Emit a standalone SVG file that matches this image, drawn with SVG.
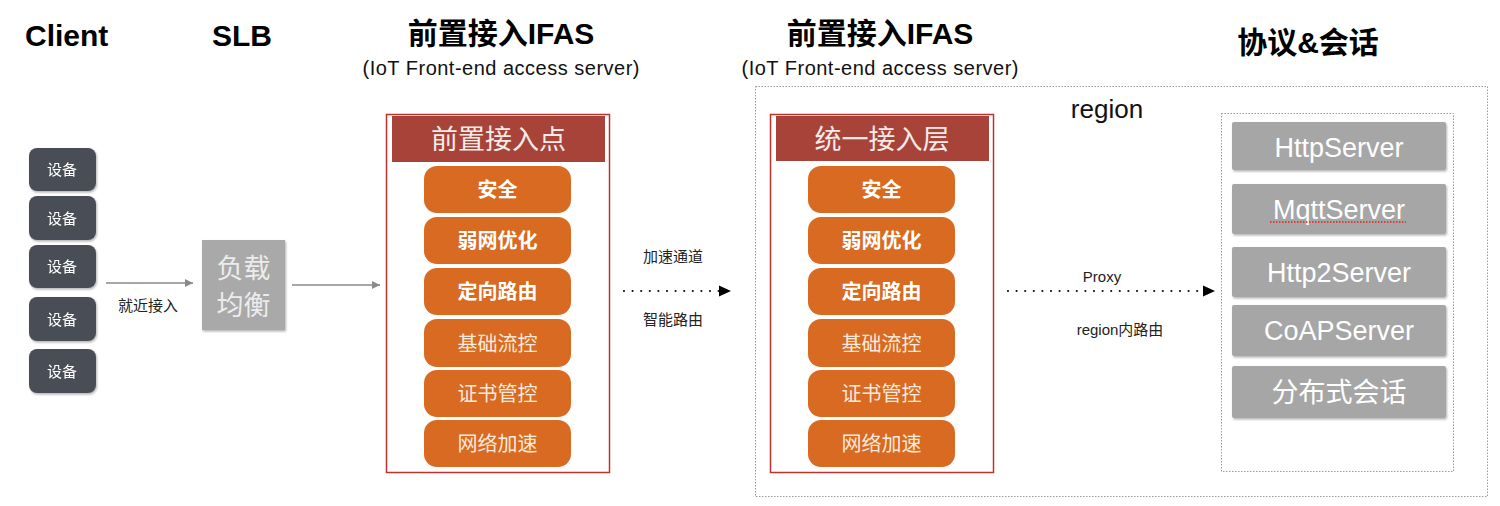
<svg xmlns="http://www.w3.org/2000/svg" width="1500" height="506" viewBox="0 0 1500 506">
<defs>
<style>
text{font-family:"Liberation Sans","Noto Sans CJK SC",sans-serif;}
.title{font-size:30px;font-weight:bold;fill:#000;}
.sub{font-size:20px;fill:#111;}
.dev{fill:#4a4e55;}
.devt{font-size:15px;fill:#fff;text-anchor:middle;}
.red{fill:#fff;stroke:#c1312b;stroke-width:1.5;}
.hdr{fill:#a8433a;}
.hdrt{font-size:27px;fill:#f5ece9;text-anchor:middle;}
.org{fill:#d96a22;}
.ob{font-size:20px;font-weight:bold;fill:#fff;text-anchor:middle;}
.on{font-size:20px;fill:#fbe9dc;text-anchor:middle;}
.srv{fill:#a6a6a6;}
.srvt{font-size:27px;fill:#fff;text-anchor:middle;}
.lbl{font-size:15px;fill:#222;text-anchor:middle;}
.dotbox{fill:none;stroke:#9a9a9a;stroke-width:1;stroke-dasharray:1.5 1.5;}
.solid{stroke:#8a8a8a;stroke-width:1.5;fill:none;}
.dotted{stroke:#111;stroke-width:2.2;stroke-linecap:round;stroke-dasharray:0 8.6;fill:none;}
</style>
<marker id="ag" viewBox="0 0 10 10" refX="10" refY="5" markerWidth="8" markerHeight="8" markerUnits="userSpaceOnUse" orient="auto"><path d="M0,0 L10,5 L0,10 Z" fill="#8a8a8a"/></marker>
<filter id="sh" x="-10%" y="-10%" width="130%" height="130%"><feDropShadow dx="1" dy="1.5" stdDeviation="1.2" flood-color="#000" flood-opacity="0.3"/></filter>
</defs>
<rect width="1500" height="506" fill="#fff"/>

<g id="titles">
<text class="title" x="25" y="46">Client</text>
<text class="title" x="212" y="46">SLB</text>
<text class="title" x="501" y="44" text-anchor="middle">前置接入IFAS</text>
<text class="sub" x="501" y="75" text-anchor="middle" textLength="277">(IoT Front-end access server)</text>
<text class="title" x="880" y="44" text-anchor="middle">前置接入IFAS</text>
<text class="sub" x="880" y="75" text-anchor="middle" textLength="277">(IoT Front-end access server)</text>
<text class="title" x="1308" y="53" text-anchor="middle">协议&amp;会话</text>
</g>

<g id="region">
<rect class="dotbox" x="755.5" y="86.5" width="732" height="410"/>
<text x="1107" y="118" font-size="26" text-anchor="middle" fill="#111">region</text>
</g>

<g id="devices" filter="url(#sh)">
<g id="dev1"><rect class="dev" x="29" y="148" width="67" height="43" rx="8"/><text class="devt" x="62" y="175">设备</text></g>
<g id="dev2"><rect class="dev" x="29" y="196" width="67" height="44" rx="8"/><text class="devt" x="62" y="223.5">设备</text></g>
<g id="dev3"><rect class="dev" x="29" y="245" width="67" height="43" rx="8"/><text class="devt" x="62" y="272">设备</text></g>
<g id="dev4"><rect class="dev" x="29" y="297" width="67" height="44" rx="8"/><text class="devt" x="62" y="324.5">设备</text></g>
<g id="dev5"><rect class="dev" x="29" y="349" width="67" height="44" rx="8"/><text class="devt" x="62" y="376.5">设备</text></g>
</g>

<g id="slb">
<rect x="202" y="240" width="83" height="90" fill="#a9a9a9" filter="url(#sh)"/>
<text x="243.5" y="278" font-size="27" fill="#ececec" text-anchor="middle">负载</text>
<text x="243.5" y="315" font-size="27" fill="#ececec" text-anchor="middle">均衡</text>
</g>

<g id="ifas1">
<rect class="red" x="386.5" y="114.5" width="223" height="358"/>
<rect class="hdr" x="392" y="116" width="213" height="46"/>
<text class="hdrt" x="498.5" y="149">前置接入点</text>
<g id="ifas1-items">
<rect class="org" x="424" y="166" width="147" height="47" rx="13"/><text class="ob" x="497.5" y="197">安全</text>
<rect class="org" x="424" y="217" width="147" height="47" rx="13"/><text class="ob" x="497.5" y="248">弱网优化</text>
<rect class="org" x="424" y="268" width="147" height="47" rx="13"/><text class="ob" x="497.5" y="299">定向路由</text>
<rect class="org" x="424" y="319" width="147" height="48" rx="13"/><text class="on" x="497.5" y="350.5">基础流控</text>
<rect class="org" x="424" y="370" width="147" height="47" rx="13"/><text class="on" x="497.5" y="401">证书管控</text>
<rect class="org" x="424" y="420" width="147" height="47" rx="13"/><text class="on" x="497.5" y="451">网络加速</text>
</g>
</g>

<g id="ifas2">
<rect class="red" x="770.5" y="114.5" width="223" height="358"/>
<rect class="hdr" x="776" y="116" width="213" height="45"/>
<text class="hdrt" x="882" y="149">统一接入层</text>
<g id="ifas2-items">
<rect class="org" x="808" y="166" width="147" height="47" rx="13"/><text class="ob" x="881.5" y="197">安全</text>
<rect class="org" x="808" y="217" width="147" height="47" rx="13"/><text class="ob" x="881.5" y="248">弱网优化</text>
<rect class="org" x="808" y="268" width="147" height="47" rx="13"/><text class="ob" x="881.5" y="299">定向路由</text>
<rect class="org" x="808" y="319" width="147" height="48" rx="13"/><text class="on" x="881.5" y="350.5">基础流控</text>
<rect class="org" x="808" y="370" width="147" height="47" rx="13"/><text class="on" x="881.5" y="401">证书管控</text>
<rect class="org" x="808" y="420" width="147" height="47" rx="13"/><text class="on" x="881.5" y="451">网络加速</text>
</g>
</g>

<g id="protocols">
<rect class="dotbox" x="1221.5" y="113.5" width="232" height="358"/>
<g filter="url(#sh)">
<rect class="srv" x="1232" y="122" width="214" height="48" rx="2"/>
<rect class="srv" x="1232" y="184" width="214" height="50" rx="2"/>
<rect class="srv" x="1232" y="247" width="214" height="50" rx="2"/>
<rect class="srv" x="1232" y="305" width="214" height="51" rx="2"/>
<rect class="srv" x="1232" y="366" width="214" height="52" rx="2"/>
</g>
<text class="srvt" x="1339" y="157">HttpServer</text>
<text class="srvt" x="1339" y="219">MqttServer</text>
<line x1="1270" y1="222" x2="1406" y2="222" stroke="#e0241c" stroke-width="1.3" stroke-dasharray="1.5 1.5"/>
<text class="srvt" x="1339" y="282">Http2Server</text>
<text class="srvt" x="1339" y="340">CoAPServer</text>
<text class="srvt" x="1339" y="402">分布式会话</text>
</g>

<g id="connectors">
<line class="solid" x1="106" y1="283" x2="193" y2="283" marker-end="url(#ag)"/>
<line class="solid" x1="292" y1="285" x2="380" y2="285" marker-end="url(#ag)"/>
<line class="dotted" x1="624" y1="291" x2="719" y2="291"/>
<path d="M719,285.5 L731,291 L719,296.5 Z" fill="#000"/>
<line class="dotted" x1="1008" y1="291" x2="1203" y2="291"/>
<path d="M1203,285.5 L1215,291 L1203,296.5 Z" fill="#000"/>
<text class="lbl" x="148" y="311">就近接入</text>
<text class="lbl" x="673" y="262">加速通道</text>
<text class="lbl" x="673" y="325">智能路由</text>
<text class="lbl" x="1102" y="282">Proxy</text>
<text class="lbl" x="1120" y="335">region内路由</text>
</g>
</svg>
